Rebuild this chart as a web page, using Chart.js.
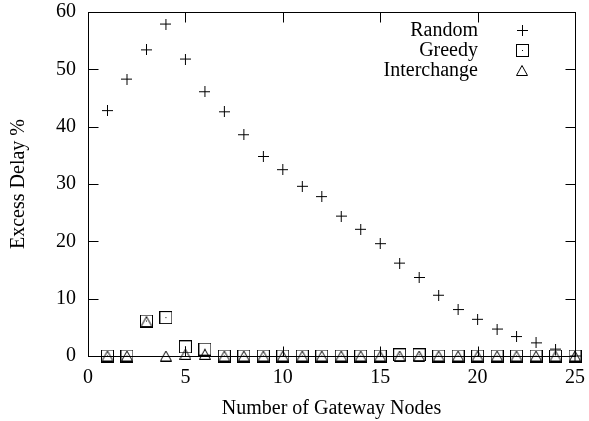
<!DOCTYPE html>
<html>
<head>
<meta charset="utf-8">
<script src="https://cdn.jsdelivr.net/npm/chart.js@4/dist/chart.umd.min.js"></script>
<style>
  body { margin: 0; background: #fff; }
  #wrap { width: 589px; height: 421px; }
</style>
</head>
<body>
<div id="wrap"><canvas id="chart" width="589" height="421"></canvas></div>
<script>
// data
const nodes = [1, 2, 3, 4, 5, 6, 7, 8, 9, 10, 11, 12, 13, 14, 15, 16, 17, 18, 19, 20, 21, 22, 23, 24, 25];
const randomDelay = [42.8, 48.3, 53.4, 57.9, 51.8, 46.1, 42.6, 38.6, 34.8, 32.5, 29.6, 27.8, 24.4, 22.1, 19.6, 16.2, 13.7, 10.6, 8.1, 6.4, 4.7, 3.4, 2.3, 1.2, 0];
const greedyDelay = [0, 0, 6.1, 6.7, 1.6, 1.2, 0, 0, 0, 0, 0, 0, 0, 0, 0, 0.2, 0.2, 0, 0, 0, 0, 0, 0, 0, 0];
const interchangeDelay = [0, 0, 6.0, 0, 0.3, 0.3, 0, 0, 0, 0, 0, 0, 0, 0, 0, 0, 0, 0, 0, 0, 0, 0, 0, 0, 0];
const seriesNames = ['Random', 'Greedy', 'Interchange'];
const xTicks = [0, 5, 10, 15, 20, 25];
const yTicks = [0, 10, 20, 30, 40, 50, 60];

const FONT = '"Liberation Serif", "Times New Roman", serif';

// gnuplot-like point symbols
function makeSymbol(kind) {
  const c = document.createElement('canvas');
  const g = c.getContext('2d');
  g.strokeStyle = '#000';
  g.lineWidth = 1;
  if (kind === 'plus') {
    c.width = 11; c.height = 11;
    g.beginPath();
    g.moveTo(0, 5.5); g.lineTo(11, 5.5);
    g.moveTo(5.5, 0); g.lineTo(5.5, 11);
    g.stroke();
  } else if (kind === 'box') {
    c.width = 13; c.height = 13;
    g.strokeRect(0.5, 0.5, 12, 12);
    g.fillStyle = '#000';
    g.fillRect(6, 6, 1, 1);
  } else {
    c.width = 12; c.height = 11;
    g.beginPath();
    g.moveTo(6, 0.5); g.lineTo(11.5, 10.5); g.lineTo(0.5, 10.5);
    g.closePath();
    g.stroke();
  }
  return c;
}
const symbols = [makeSymbol('plus'), makeSymbol('box'), makeSymbol('tri')];

const toPoints = vals => nodes.map((n, i) => ({ x: n, y: vals[i] }));

// frame, inward ticks (mirrored) and the key
const framePlugin = {
  id: 'frame',
  afterDatasetsDraw(chart) {
    const { ctx, chartArea: a, scales } = chart;
    const L = Math.round(a.left) + 0.5, R = Math.round(a.right) + 0.5;
    const T = Math.round(a.top) + 0.5, B = Math.round(a.bottom) + 0.5;
    ctx.save();
    ctx.strokeStyle = '#000';
    ctx.lineWidth = 1;
    ctx.strokeRect(L, T, R - L, B - T);
    ctx.beginPath();
    xTicks.forEach(v => {
      const px = Math.round(scales.x.getPixelForValue(v)) + 0.5;
      ctx.moveTo(px, B); ctx.lineTo(px, B - 10);
      ctx.moveTo(px, T); ctx.lineTo(px, T + 10);
    });
    yTicks.forEach(v => {
      const py = Math.round(scales.y.getPixelForValue(v)) + 0.5;
      ctx.moveTo(L, py); ctx.lineTo(L + 10, py);
      ctx.moveTo(R, py); ctx.lineTo(R - 10, py);
    });
    ctx.stroke();

    // key
    ctx.font = '20px ' + FONT;
    ctx.fillStyle = '#000';
    ctx.textAlign = 'right';
    ctx.textBaseline = 'middle';
    seriesNames.forEach((name, i) => {
      const y = 31 + i * 20;
      ctx.fillText(name, 478, y);
      const s = symbols[i];
      ctx.drawImage(s, Math.round(522 - s.width / 2), Math.round(y - 1 - s.height / 2));
    });
    ctx.restore();
  }
};

new Chart(document.getElementById('chart'), {
  type: 'scatter',
  data: {
    datasets: [
      { label: seriesNames[0], data: toPoints(randomDelay), pointStyle: symbols[0], clip: false },
      { label: seriesNames[1], data: toPoints(greedyDelay), pointStyle: symbols[1], clip: false },
      { label: seriesNames[2], data: toPoints(interchangeDelay), pointStyle: symbols[2], clip: false },
    ],
  },
  options: {
    responsive: false,
    animation: false,
    layout: { padding: { top: 12, right: 14, left: 0, bottom: 0 } },
    plugins: { legend: { display: false }, tooltip: { enabled: false } },
    scales: {
      x: {
        type: 'linear',
        min: 0, max: 25,
        afterBuildTicks: s => { s.ticks = xTicks.map(v => ({ value: v })); },
        afterFit: s => { s.height = 65; s.paddingLeft = 0; s.paddingRight = 0; },
        grid: { display: false, drawTicks: false },
        border: { display: false },
        ticks: { color: '#000', padding: 10, font: { family: FONT, size: 20 } },
        title: {
          display: true, text: 'Number of Gateway Nodes', color: '#000',
          padding: { top: 0, bottom: 0 }, font: { family: FONT, size: 20 },
        },
      },
      y: {
        min: 0, max: 60,
        afterBuildTicks: s => { s.ticks = yTicks.map(v => ({ value: v })); },
        afterFit: s => { s.width = 88; s.paddingTop = 0; s.paddingBottom = 0; },
        grid: { display: false, drawTicks: false },
        border: { display: false },
        ticks: { color: '#000', padding: 12, font: { family: FONT, size: 20 } },
        title: {
          display: true, text: 'Excess Delay %', color: '#000',
          padding: { top: 7, bottom: 0 }, font: { family: FONT, size: 20 },
        },
      },
    },
  },
  plugins: [framePlugin],
});
</script>
</body>
</html>
